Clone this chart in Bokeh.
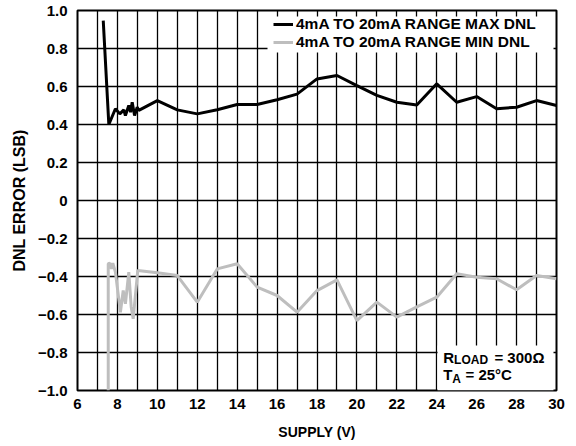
from bokeh.plotting import figure
from bokeh.models import FixedTicker, Legend, LegendItem, BoxAnnotation, Label, Range1d
from bokeh.embed import file_html
from bokeh.resources import INLINE

# ---- data ----
max_x = [7.29, 7.57, 7.90, 8.12, 8.32, 8.40, 8.57, 8.66, 8.74, 8.86, 8.99, 9.07,
         10, 11, 12, 13, 14, 15, 16, 17, 18, 19, 20, 21, 22, 23, 24, 25, 26, 27, 28, 29, 30]
max_y = [0.947, 0.40, 0.483, 0.456, 0.477, 0.447, 0.50, 0.465, 0.517, 0.447, 0.491, 0.474,
         0.526, 0.477, 0.456, 0.478, 0.505, 0.505, 0.53, 0.56, 0.64, 0.658, 0.605, 0.553,
         0.517, 0.503, 0.614, 0.517, 0.547, 0.483, 0.491, 0.526, 0.50]

min_x = [7.54, 7.54, 7.62, 7.70, 7.77, 7.90, 8.15, 8.29, 8.40, 8.57, 8.69, 8.79, 9.02,
         10, 11, 12, 13, 14, 15, 16, 17, 18, 19, 20, 21, 22, 23, 24, 25, 26, 27, 28, 29, 30]
min_y = [-1.0, -0.333, -0.33, -0.36, -0.33, -0.377, -0.588, -0.474, -0.544, -0.377, -0.56, -0.623, -0.368,
         -0.38, -0.395, -0.535, -0.36, -0.333, -0.456, -0.5, -0.588, -0.474, -0.418, -0.632,
         -0.535, -0.614, -0.56, -0.509, -0.386, -0.404, -0.412, -0.47, -0.395, -0.412]

series_names = ["4mA TO 20mA RANGE MAX DNL", "4mA TO 20mA RANGE MIN DNL"]
series_colors = ["#000000", "#BEBEBE"]

x_ticks = [6, 8, 10, 12, 14, 16, 18, 20, 22, 24, 26, 28, 30]
x_minor = [7, 9, 11, 13, 15, 17, 19, 21, 23, 25, 27, 29]
y_ticks = [-1.0, -0.8, -0.6, -0.4, -0.2, 0, 0.2, 0.4, 0.6, 0.8, 1.0]
y_tick_labels = ["\u22121.0", "\u22120.8", "\u22120.6", "\u22120.4", "\u22120.2", "0",
                 "0.2", "0.4", "0.6", "0.8", "1.0"]

FONT = "Liberation Sans"

p = figure(width=576, height=446, x_range=Range1d(6, 30), y_range=Range1d(-1, 1),
           output_backend="svg", toolbar_location=None,
           min_border_left=77, min_border_right=20, min_border_top=10, min_border_bottom=56)
p.outline_line_color = "#000000"
p.outline_line_alpha = 1.0
p.outline_line_width = 2

p.xaxis.ticker = FixedTicker(ticks=x_ticks, minor_ticks=x_minor)
p.yaxis.ticker = FixedTicker(ticks=y_ticks, minor_ticks=[])
p.yaxis.major_label_overrides = {t: l for t, l in zip(y_ticks, y_tick_labels)}

p.grid.grid_line_color = "#000000"
p.grid.grid_line_alpha = 1.0
p.grid.grid_line_width = 1.3
p.xgrid.minor_grid_line_color = "#000000"
p.xgrid.minor_grid_line_alpha = 1.0
p.xgrid.minor_grid_line_width = 1.3

for ax in (p.xaxis, p.yaxis):
    ax.axis_line_color = None
    ax.major_tick_out = 0
    ax.major_tick_in = 0
    ax.minor_tick_out = 0
    ax.minor_tick_in = 0
    ax.major_label_text_font = FONT
    ax.major_label_text_font_style = "bold"
    ax.major_label_text_font_size = "15px"
    ax.major_label_text_color = "black"
    ax.axis_label_text_font = FONT
    ax.axis_label_text_font_style = "bold"
    ax.axis_label_text_color = "black"

p.xaxis.axis_label = "SUPPLY (V)"
p.yaxis.axis_label = "DNL ERROR (LSB)"
p.xaxis.axis_label_text_font_size = "14px"
p.yaxis.axis_label_text_font_size = "16px"
p.xaxis.major_label_standoff = 8
p.yaxis.major_label_standoff = 10
p.xaxis.axis_label_standoff = 12
p.yaxis.axis_label_standoff = 7

r1 = p.line(max_x, max_y, line_color=series_colors[0], line_width=3)
r2 = p.line(min_x, min_y, line_color=series_colors[1], line_width=3)

# white boxes behind legend and annotation
p.add_layout(BoxAnnotation(left=15.52, right=29.85, bottom=0.779, top=0.968,
                           fill_color="white", fill_alpha=1, line_color=None))
p.add_layout(BoxAnnotation(left=24.04, right=29.85, bottom=-1.0, top=-0.763,
                           fill_color="white", fill_alpha=1, line_color=None))

def make_legend(name, rend, loc):
    lg = Legend(items=[LegendItem(label=name, renderers=[rend])], location=loc)
    lg.background_fill_alpha = 0
    lg.border_line_color = None
    lg.padding = 0
    lg.spacing = 0
    lg.margin = 0
    lg.glyph_width = 20
    lg.glyph_height = 14
    lg.label_standoff = 3
    lg.label_height = 14
    lg.label_text_font = FONT
    lg.label_text_font_style = "bold"
    lg.label_text_font_size = "15.5px"
    lg.label_text_color = "black"
    p.add_layout(lg)

make_legend(series_names[0], r1, (196, 357))
make_legend(series_names[1], r2, (196, 339))

def lab(x, y, text, size):
    p.add_layout(Label(x=x, y=y, text=text, text_font=FONT, text_font_style="bold",
                       text_font_size=size, text_color="black", text_baseline="alphabetic"))

lab(24.32, -0.826, "R", "15px")
lab(24.87, -0.842, "LOAD", "12px")
lab(26.89, -0.826, "= 300\u03a9", "15px")
lab(24.32, -0.918, "T", "15px")
lab(24.78, -0.942, "A", "12px")
lab(25.44, -0.918, "= 25\u00b0C", "15px")

open("out.html", "w").write(file_html(p, INLINE))
